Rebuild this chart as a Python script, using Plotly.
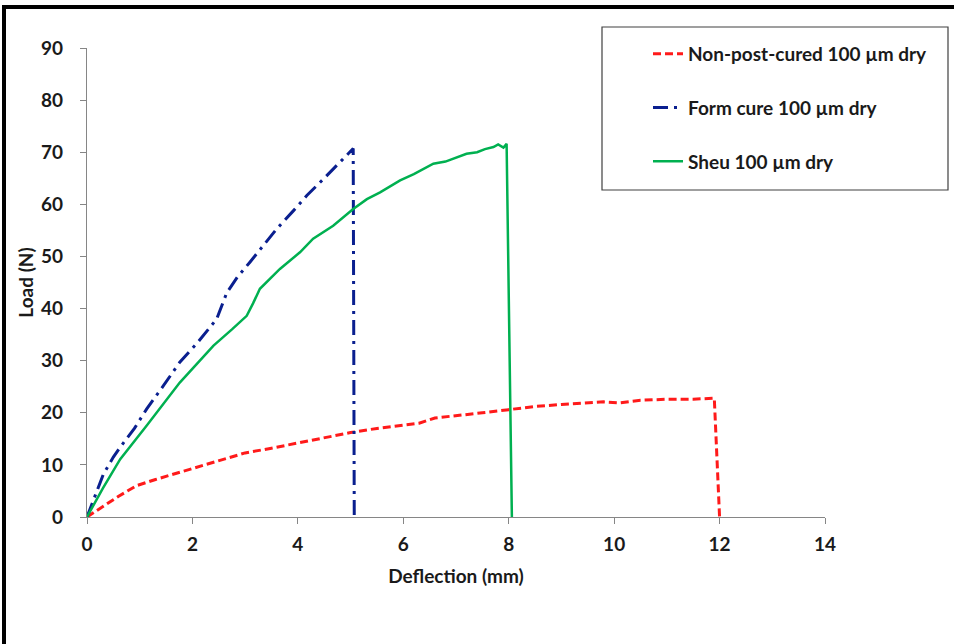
import plotly.graph_objects as go

# ---- data ----
npc_x = [0, 0.3, 0.6, 0.94, 1.3, 1.9, 2.5, 3.0, 3.5, 4.0, 4.5, 5.0, 5.5, 6.0, 6.3, 6.6,
         7.0, 7.5, 8.0, 8.5, 9.0, 9.5, 9.8, 10.1, 10.5, 11.0, 11.5, 11.9, 12.0]
npc_y = [0, 2.0, 4.0, 6.0, 7.2, 9.0, 10.8, 12.3, 13.2, 14.2, 15.2, 16.2, 17.0, 17.6, 18.0, 19.0,
         19.4, 20.0, 20.6, 21.2, 21.6, 21.9, 22.1, 21.9, 22.4, 22.6, 22.6, 22.8, 0]

form_x = [0, 0.15, 0.31, 0.5, 0.63, 0.9, 1.13, 1.45, 1.76, 2.1, 2.46, 2.65, 2.85, 3.09,
          3.35, 3.6, 3.9, 4.17, 4.5, 4.8, 5.05, 5.07]
form_y = [0, 4, 8.2, 11.5, 13.4, 17.0, 20.7, 25.2, 29.7, 33.5, 38, 43, 46, 48.9,
          52.2, 55.3, 58.6, 61.7, 65, 68.1, 70.7, 0]

sheu_x = [0, 0.3, 0.63, 1.13, 1.76, 2.4, 2.75, 3.03, 3.15, 3.28, 3.66, 4.04, 4.29, 4.67, 5.05,
          5.31, 5.56, 5.94, 6.2, 6.57, 6.8, 7.0, 7.2, 7.4, 7.55, 7.71, 7.8, 7.9, 7.96, 8.06]
sheu_y = [0, 5.5, 11.1, 17.5, 25.8, 32.9, 36.0, 38.6, 41, 43.8, 47.6, 50.8, 53.4, 55.9, 59.1,
          61.0, 62.3, 64.6, 65.8, 67.8, 68.2, 69.0, 69.7, 70.0, 70.6, 71.0, 71.5, 70.9, 71.6, 0]

names = ["Non-post-cured 100 \u00b5m dry", "Form cure 100 \u00b5m dry", "Sheu 100 \u00b5m dry"]
x_ticks = [0, 2, 4, 6, 8, 10, 12, 14]
y_ticks = [0, 10, 20, 30, 40, 50, 60, 70, 80, 90]

FONT = "Lato"
TXT = "#1a1a1a"

fig = go.Figure()
fig.add_trace(go.Scatter(x=npc_x, y=npc_y, mode="lines", name=names[0], legendgroup="a",
                         line=dict(color="#FF1A1A", width=3, dash="8px,4px")))
fig.add_trace(go.Scatter(x=form_x, y=form_y, mode="lines", name=names[1], legendgroup="b",
                         line=dict(color="#0A1F8F", width=3, dash="15px,6px,3px,6px")))
fig.add_trace(go.Scatter(x=sheu_x, y=sheu_y, mode="lines", name=names[2], legendgroup="c",
                         line=dict(color="#00B050", width=2.5)))

axis_common = dict(showgrid=False, zeroline=False, showline=True, linecolor="#868686",
                   linewidth=1.2, ticks="outside", tickcolor="#868686", tickwidth=1.2,
                   tickfont=dict(family=FONT, size=19, color=TXT, weight="bold"))

fig.update_xaxes(range=[0, 14], tickvals=x_ticks, ticklen=6, ticklabelstandoff=4,
                 title=dict(text="Deflection (mm)", standoff=15,
                            font=dict(family=FONT, size=19, color=TXT, weight="bold")),
                 **axis_common)
fig.update_yaxes(range=[0, 90], tickvals=y_ticks, ticklen=6, ticklabelstandoff=13,
                 title=dict(text="Load (N)", standoff=2,
                            font=dict(family=FONT, size=19, color=TXT, weight="bold")),
                 **axis_common)

def px(xp):
    return (xp - 87) / 738.0

def py(yp):
    return (517 - yp) / 469.0

shapes = [
    # outer frame (top and left)
    dict(type="line", xref="paper", yref="paper", x0=px(2), x1=px(960), y0=py(7), y1=py(7),
         line=dict(color="black", width=4)),
    dict(type="line", xref="paper", yref="paper", x0=px(4), x1=px(4), y0=py(5), y1=py(650),
         line=dict(color="black", width=4)),
    # legend box
    dict(type="rect", xref="paper", yref="paper", x0=px(602), x1=px(948), y0=py(190), y1=py(27),
         line=dict(color="#404040", width=1.2)),
]

fig.update_layout(
    width=954, height=644,
    margin=dict(l=87, r=129, t=48, b=127),
    paper_bgcolor="white", plot_bgcolor="white",
    shapes=shapes,
    showlegend=True,
    legend=dict(x=px(648), y=py(35), xanchor="left", yanchor="top",
                bgcolor="rgba(0,0,0,0)", borderwidth=0, tracegroupgap=26,
                traceorder="grouped",
                font=dict(family=FONT, size=19, color=TXT, weight="bold")),
)

fig.write_html("out.html", config={"displayModeBar": False},
               post_script="document.body.style.margin='0';")
